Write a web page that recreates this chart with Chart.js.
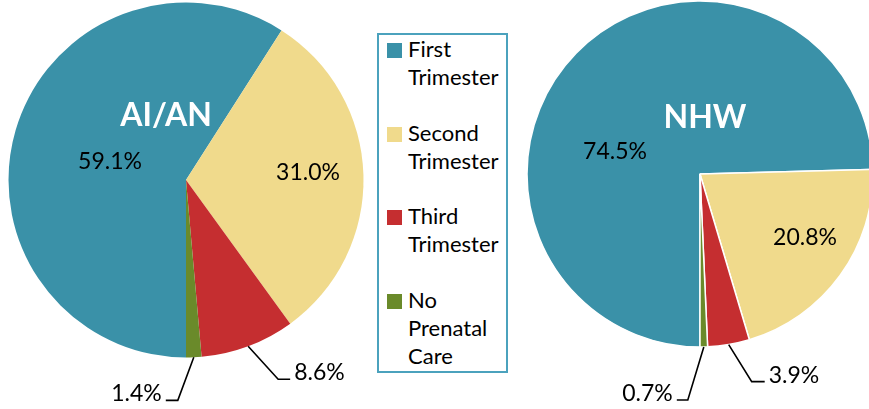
<!DOCTYPE html>
<html>
<head>
<meta charset="utf-8">
<script src="https://cdn.jsdelivr.net/npm/chart.js@4/dist/chart.umd.min.js"></script>
<style>
  html, body { margin:0; padding:0; background:#ffffff; }
  body { width:869px; height:409px; overflow:hidden; position:relative; font-family:Lato, "Open Sans", sans-serif; }
  canvas { position:absolute; left:0; top:0; }
  #legend { position:absolute; left:377px; top:33px; width:131px; height:340px; box-sizing:border-box;
            border:2px solid #4BA2BD; background:#fff; }
  .item { position:absolute; left:0; }
  .sw { position:absolute; left:8px; top:8px; width:15px; height:15px; }
  .txt { position:absolute; left:29px; top:0; font-size:22px; line-height:28px; color:#000; white-space:nowrap; }
</style>
</head>
<body>
<canvas id="c1" width="869" height="409"></canvas>
<canvas id="c2" width="869" height="409"></canvas>
<div id="legend"></div>
<script>
// ---- data ----
const categories = ['First Trimester', 'Second Trimester', 'Third Trimester', 'No Prenatal Care'];
const legendLines = [['First', 'Trimester'], ['Second', 'Trimester'], ['Third', 'Trimester'], ['No', 'Prenatal', 'Care']];
const groupTitles = ['AI/AN', 'NHW'];
const aianValues = [59.1, 31.0, 8.6, 1.4];
const nhwValues = [74.5, 20.8, 3.9, 0.7];

// ---- styles ----
const sliceColors = ['#3A91A8', '#F0DA8C', '#C52E30', '#6A8A2A'];

// legend
const legendEl = document.getElementById('legend');
legendLines.forEach((lines, i) => {
  const it = document.createElement('div');
  it.className = 'item';
  it.style.top = (i * 83.5) + 'px';
  const sw = document.createElement('div');
  sw.className = 'sw';
  sw.style.background = sliceColors[i];
  it.appendChild(sw);
  const tx = document.createElement('div');
  tx.className = 'txt';
  tx.innerHTML = lines.join('<br>');
  it.appendChild(tx);
  legendEl.appendChild(it);
});

const labelPlugin = {
  id: 'pieLabels',
  afterDatasetsDraw(chart, args, opts) {
    const meta = chart.getDatasetMeta(0);
    const ctx = chart.ctx;
    const a0 = meta.data[0];
    const cx = a0.x, cy = a0.y, R = a0.outerRadius;
    ctx.save();
    ctx.fillStyle = '#ffffff';
    ctx.textAlign = 'center';
    ctx.textBaseline = 'middle';
    ctx.font = 'bold 32px Lato, "Open Sans", sans-serif';
    ctx.fillText(opts.title, cx + opts.titlePos[0], cy + opts.titlePos[1]);
    ctx.font = '23px Lato, "Open Sans", sans-serif';
    ctx.fillStyle = '#000000';
    ctx.strokeStyle = '#000000';
    ctx.lineWidth = 1.6;
    const vals = chart.data.datasets[0].data;
    meta.data.forEach((arc, i) => {
      const text = vals[i].toFixed(1) + '%';
      const spec = opts.labels[i];
      if (spec.inside) {
        ctx.textAlign = 'center';
        ctx.textBaseline = 'middle';
        ctx.fillText(text, cx + spec.pos[0], cy + spec.pos[1]);
      } else {
        const mid = (arc.startAngle + arc.endAngle) / 2;
        const sx = arc.x + Math.cos(mid) * R;
        const sy = arc.y + Math.sin(mid) * R;
        const ex = sx + spec.elbow[0], ey = sy + spec.elbow[1];
        const hx = ex + spec.hor;
        ctx.beginPath();
        ctx.moveTo(sx, sy);
        ctx.lineTo(ex, ey);
        ctx.lineTo(hx, ey);
        ctx.stroke();
        ctx.textBaseline = 'alphabetic';
        if (spec.hor > 0) {
          ctx.textAlign = 'left';
          ctx.fillText(text, hx + 4, ey + 1);
        } else {
          ctx.textAlign = 'right';
          ctx.fillText(text, hx - 4, ey + 1);
        }
      }
    });
    ctx.restore();
  }
};

function makePie(id, values, title, padding, radius, borderWidth, labelSpec, titlePos) {
  return new Chart(document.getElementById(id), {
    type: 'pie',
    data: {
      labels: categories,
      datasets: [{
        data: values,
        backgroundColor: sliceColors,
        borderColor: '#ffffff',
        borderWidth: borderWidth,
        rotation: 180,
        radius: radius,
        clip: false
      }]
    },
    options: {
      responsive: false,
      animation: false,
      events: [],
      layout: { padding: padding },
      plugins: {
        legend: { display: false },
        tooltip: { enabled: false },
        title: { display: false },
        pieLabels: { title: title, titlePos: titlePos, labels: labelSpec }
      }
    },
    plugins: [labelPlugin]
  });
}

makePie('c1', aianValues, groupTitles[0],
  { left: 0, top: 0, right: 497, bottom: 49 }, 177.5, 0,
  [
    { inside: true, pos: [-76, -18] },
    { inside: true, pos: [122, -7] },
    { inside: false, elbow: [30, 33], hor: 12 },
    { inside: false, elbow: [-16, 43], hor: -12 }
  ], [-20, -64]);

makePie('c2', nhwValues, groupTitles[1],
  { left: 600, top: 74, right: 69, bottom: 135 }, 173, 1.5,
  [
    { inside: true, pos: [-85, -22] },
    { inside: true, pos: [105, 64] },
    { inside: false, elbow: [23, 37], hor: 13 },
    { inside: false, elbow: [-16, 53], hor: -11 }
  ], [5, -56]);
</script>
</body>
</html>
